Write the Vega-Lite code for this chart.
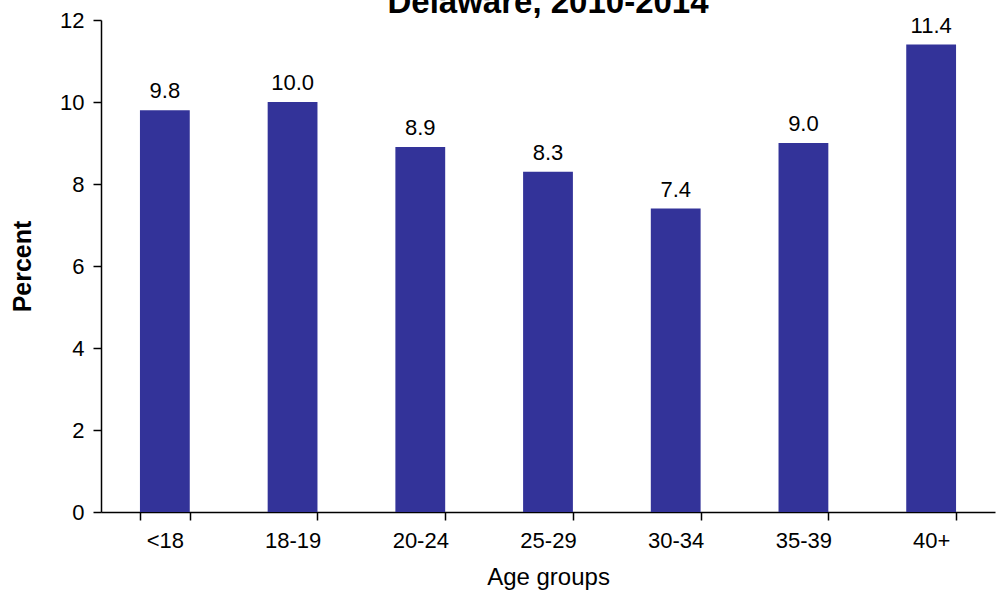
{
  "$schema": "https://vega.github.io/schema/vega-lite/v6.json",
  "width": 894,
  "height": 492,
  "autosize": {"type": "none"},
  "padding": {"top": 20, "left": 101, "right": 2, "bottom": 82},
  "background": "white",
  "title": {"text": "Delaware, 2010-2014", "font": "Liberation Sans", "fontSize": 33, "fontWeight": "bold", "color": "black", "offset": -11, "anchor": "middle"},
  "data": {"values": [
    {"age": "<18", "pct": 9.8},
    {"age": "18-19", "pct": 10.0},
    {"age": "20-24", "pct": 8.9},
    {"age": "25-29", "pct": 8.3},
    {"age": "30-34", "pct": 7.4},
    {"age": "35-39", "pct": 9.0},
    {"age": "40+", "pct": 11.4}
  ]},
  "config": {"view": {"stroke": null}},
  "encoding": {
    "x": {"field": "age", "type": "nominal", "sort": null,
      "scale": {"paddingInner": 0.61, "paddingOuter": 0.305},
      "axis": {"title": "Age groups", "titleFont": "Liberation Sans", "titleFontSize": 24, "titleFontWeight": "normal", "titleColor": "black", "titlePadding": 14,
        "labelFont": "Liberation Sans", "labelFontSize": 22, "labelColor": "black", "labelAngle": 0, "labelPadding": 10,
        "tickBand": "extent", "tickSize": 8, "tickColor": "black", "domainColor": "black", "tickWidth": 1.5, "domainWidth": 1.5}},
    "y": {"field": "pct", "type": "quantitative",
      "scale": {"domain": [0, 12]},
      "axis": {"title": "Percent", "titleFont": "Liberation Sans", "titleFontSize": 25, "titleFontWeight": "bold", "titleColor": "black", "titlePadding": 24,
        "labelFont": "Liberation Sans", "labelFontSize": 22, "labelColor": "black", "labelPadding": 9,
        "values": [0, 2, 4, 6, 8, 10, 12], "grid": false, "tickSize": 8, "tickColor": "black", "domainColor": "black", "tickWidth": 1.5, "domainWidth": 1.5}}
  },
  "layer": [
    {"mark": {"type": "bar", "color": "#333399"}},
    {"mark": {"type": "text", "font": "Liberation Sans", "fontSize": 22, "color": "black", "baseline": "alphabetic", "dy": -12},
     "encoding": {"text": {"field": "pct", "type": "quantitative", "format": ".1f"}}}
  ]
}
